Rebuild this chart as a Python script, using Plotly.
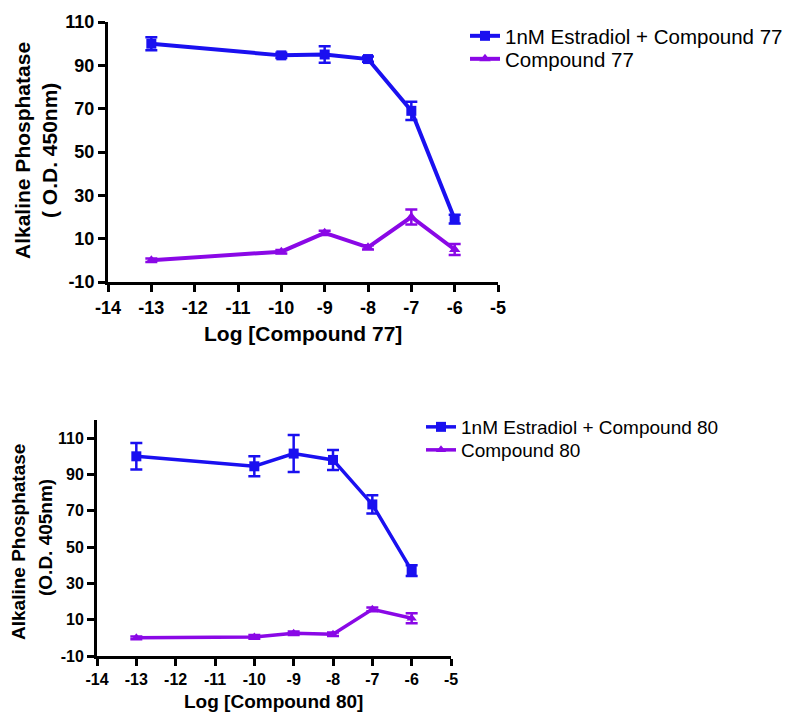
import plotly.graph_objects as go

# ---- data ----
x_top = [-13, -10, -9, -8, -7, -6]
top_blue = [100, 94.6, 95, 92.9, 69, 19]
top_blue_err = [3, 1.2, 3.8, 1.2, 4.2, 2]
top_purple = [0, 4, 12.7, 6, 20, 5]
top_purple_err = [0.8, 0.8, 1, 1, 3.5, 2.5]

x_bot = [-13, -10, -9, -8, -7, -6]
bot_blue = [100, 94.5, 101.5, 98, 73.5, 37]
bot_blue_err = [7.3, 5.5, 10.2, 5.5, 5, 3]
bot_purple = [0, 0.5, 2.5, 2, 15.7, 10.8]
bot_purple_err = [0.8, 1, 1, 1, 1, 2.8]

x_ticks = [-14, -13, -12, -11, -10, -9, -8, -7, -6, -5]
y_ticks = [-10, 10, 30, 50, 70, 90, 110]
x_ticktext = [str(v) for v in x_ticks]
y_ticktext = [str(v) for v in y_ticks]

BLUE = "#1a10f0"
PURPLE = "#8a08e6"
FONT = "Liberation Sans"

fig = go.Figure()

def add_series(x, y, err, color, symbol, name, xa, ya, legend, lw, size):
    fig.add_trace(go.Scatter(
        x=x, y=y, mode="lines+markers", name=name,
        line=dict(color=color, width=lw),
        marker=dict(symbol=symbol, size=size, color=color),
        error_y=dict(type="data", array=err, visible=True, color=color, thickness=2.5, width=6),
        xaxis=xa, yaxis=ya, legend=legend,
    ))

add_series(x_top, top_blue, top_blue_err, BLUE, "square", "1nM Estradiol + Compound 77", "x", "y", "legend", 4, 10)
add_series(x_top, top_purple, top_purple_err, PURPLE, "triangle-up", "Compound 77", "x", "y", "legend3", 4, 10)
add_series(x_bot, bot_blue, bot_blue_err, BLUE, "square", "1nM Estradiol + Compound 80", "x2", "y2", "legend2", 3.5, 10)
add_series(x_bot, bot_purple, bot_purple_err, PURPLE, "triangle-up", "Compound 80", "x2", "y2", "legend4", 3.5, 9)

# page body has an 8px margin, so the figure is drawn offset by 8px
OFF = 8
W, H = 795 - OFF, 713 - OFF
def px(v): return (v - OFF) / W
def py(v): return 1 - (v - OFF) / H

axis_common = dict(showline=True, linewidth=3, linecolor="black", ticks="outside",
                   ticklen=7, tickwidth=3, tickcolor="black", showgrid=False, zeroline=False,
                   mirror=False, automargin=False)

def leg(x, y, size):
    return dict(x=px(x), y=py(y), xanchor="left", yanchor="middle",
                font=dict(size=size, family=FONT), bgcolor="rgba(0,0,0,0)",
                tracegroupgap=0, itemwidth=30)

fig.update_layout(
    width=W, height=H, margin=dict(l=0, r=0, t=0, b=0, autoexpand=False),
    paper_bgcolor="white", plot_bgcolor="white",
    font=dict(family=FONT, color="black"),
    xaxis=dict(domain=[px(108), px(498)], range=[-14, -5], tickvals=x_ticks, ticktext=x_ticktext,
               tickfont=dict(size=18, family=FONT, weight="bold"), anchor="y", **axis_common),
    yaxis=dict(domain=[py(282), py(22)], range=[-10, 110], tickvals=y_ticks, ticktext=y_ticktext,
               tickfont=dict(size=18, family=FONT, weight="bold"), anchor="x", **axis_common),
    xaxis2=dict(domain=[px(97), px(451)], range=[-14, -5], tickvals=x_ticks, ticktext=x_ticktext,
                tickfont=dict(size=16, family=FONT, weight="bold"), anchor="y2", **axis_common),
    yaxis2=dict(domain=[py(656), py(420)], range=[-10, 120], tickvals=y_ticks, ticktext=y_ticktext,
                tickfont=dict(size=16, family=FONT, weight="bold"), anchor="x2", **axis_common),
    legend=leg(465, 36, 20.5),
    legend3=leg(465, 59, 20.5),
    legend2=leg(421, 427, 19),
    legend4=leg(421, 450, 19),
    showlegend=True,
)

annots = [
    dict(text="Alkaline Phosphatase", x=px(23), y=py(151), textangle=-90, size=21),
    dict(text="( O.D. 450nm)", x=px(50), y=py(151), textangle=-90, size=21),
    dict(text="Log [Compound 77]", x=px(303), y=py(333), textangle=0, size=21),
    dict(text="Alkaline Phosphatase", x=px(18), y=py(542), textangle=-90, size=19),
    dict(text="(O.D. 405nm)", x=px(45), y=py(538), textangle=-90, size=19),
    dict(text="Log [Compound 80]", x=px(273), y=py(701), textangle=0, size=19),
]
for a in annots:
    fig.add_annotation(text=a["text"], x=a["x"], y=a["y"], xref="paper", yref="paper",
                       xanchor="center", yanchor="middle", showarrow=False, textangle=a["textangle"],
                       font=dict(size=a["size"], family=FONT, weight="bold", color="black"))

fig.write_html("out.html")
